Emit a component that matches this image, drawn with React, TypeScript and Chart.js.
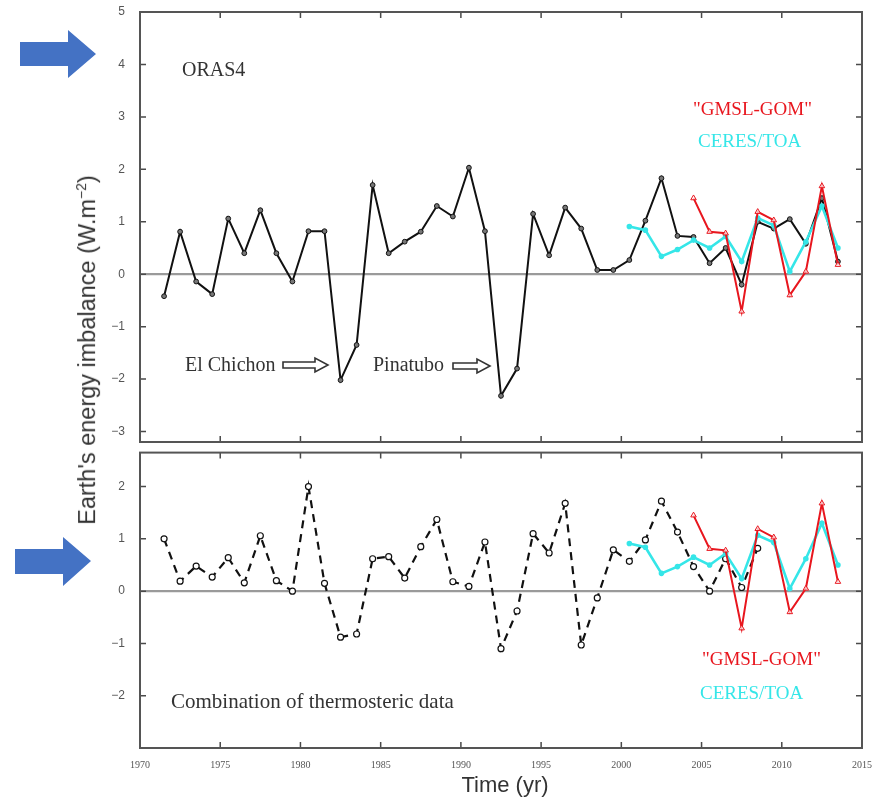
import React, { useEffect, useRef } from 'react';
import { Chart, registerables } from 'chart.js';
Chart.register(...registerables);

// ---------- data ----------
const orasYears = [1971.5, 1972.5, 1973.5, 1974.5, 1975.5, 1976.5, 1977.5, 1978.5, 1979.5, 1980.5, 1981.5, 1982.5, 1983.5, 1984.5, 1985.5, 1986.5, 1987.5, 1988.5, 1989.5, 1990.5, 1991.5, 1992.5, 1993.5, 1994.5, 1995.5, 1996.5, 1997.5, 1998.5, 1999.5, 2000.5, 2001.5, 2002.5, 2003.5, 2004.5, 2005.5, 2006.5, 2007.5, 2008.5, 2009.5, 2010.5, 2011.5, 2012.5, 2013.5];
const orasValues = [-0.42, 0.81, -0.14, -0.38, 1.06, 0.4, 1.22, 0.4, -0.14, 0.82, 0.82, -2.02, -1.35, 1.7, 0.4, 0.62, 0.81, 1.3, 1.1, 2.03, 0.82, -2.32, -1.8, 1.15, 0.36, 1.27, 0.87, 0.08, 0.08, 0.27, 1.02, 1.83, 0.73, 0.71, 0.21, 0.5, -0.2, 1.0, 0.87, 1.05, 0.58, 1.45, 0.24];

const thermoYears = [1971.5, 1972.5, 1973.5, 1974.5, 1975.5, 1976.5, 1977.5, 1978.5, 1979.5, 1980.5, 1981.5, 1982.5, 1983.5, 1984.5, 1985.5, 1986.5, 1987.5, 1988.5, 1989.5, 1990.5, 1991.5, 1992.5, 1993.5, 1994.5, 1995.5, 1996.5, 1997.5, 1998.5, 1999.5, 2000.5, 2001.5, 2002.5, 2003.5, 2004.5, 2005.5, 2006.5, 2007.5, 2008.5];
const thermoValues = [1.0, 0.19, 0.48, 0.27, 0.64, 0.16, 1.06, 0.2, 0.0, 2.0, 0.15, -0.88, -0.82, 0.62, 0.66, 0.25, 0.85, 1.37, 0.18, 0.09, 0.94, -1.1, -0.38, 1.1, 0.73, 1.68, -1.03, -0.13, 0.79, 0.57, 0.98, 1.72, 1.13, 0.47, 0.0, 0.62, 0.07, 0.82];

const ceresYears = [2000.5, 2001.5, 2002.5, 2003.5, 2004.5, 2005.5, 2006.5, 2007.5, 2008.5, 2009.5, 2010.5, 2011.5, 2012.5, 2013.5];
const ceresValues = [0.91, 0.84, 0.34, 0.47, 0.65, 0.5, 0.72, 0.24, 1.07, 0.93, 0.05, 0.62, 1.3, 0.5];

const gmslYears = [2004.5, 2005.5, 2006.5, 2007.5, 2008.5, 2009.5, 2010.5, 2011.5, 2012.5, 2013.5];
const gmslValues = [1.45, 0.81, 0.78, -0.71, 1.19, 1.03, -0.4, 0.05, 1.68, 0.18];

const xTicks = [1970, 1975, 1980, 1985, 1990, 1995, 2000, 2005, 2010, 2015];
const topYTicks = [-3, -2, -1, 0, 1, 2, 3, 4, 5];
const bottomYTicks = [-2, -1, 0, 1, 2];

const yAxisTitle = "Earth's energy imbalance (W.m";
const xAxisTitle = 'Time (yr)';
const topLabel = 'ORAS4';
const bottomLabel = 'Combination of thermosteric data';
const gmslLabel = '"GMSL-GOM"';
const ceresLabel = 'CERES/TOA';
const volcanoLabels = ['El Chichon', 'Pinatubo'];

const RED = '#e8161e';
const CYAN = '#35e6e8';
const SERIF = '"Liberation Serif", "DejaVu Serif", serif';
const SANS = '"Liberation Sans", Arial, sans-serif';

const pts = (xs: number[], ys: number[]) => xs.map((x, i) => ({ x, y: ys[i] }));

function hollowArrow(ctx: CanvasRenderingContext2D, x0: number, x1: number, y: number) {
  const head = 13;
  ctx.save();
  ctx.beginPath();
  ctx.moveTo(x0, y - 3);
  ctx.lineTo(x1 - head, y - 3);
  ctx.lineTo(x1 - head, y - 7);
  ctx.lineTo(x1, y);
  ctx.lineTo(x1 - head, y + 7);
  ctx.lineTo(x1 - head, y + 3);
  ctx.lineTo(x0, y + 3);
  ctx.closePath();
  ctx.fillStyle = '#fff';
  ctx.fill();
  ctx.strokeStyle = '#333';
  ctx.lineWidth = 1.6;
  ctx.stroke();
  ctx.restore();
}

function framePlugin(yTicks: number[], annotate: (ctx: CanvasRenderingContext2D) => void) {
  return {
    id: 'frame',
    beforeDatasetsDraw(chart: any) {
      const { ctx, chartArea: a, scales } = chart;
      const y0 = scales.y.getPixelForValue(0);
      ctx.save();
      ctx.strokeStyle = '#9a9a9a';
      ctx.lineWidth = 2.2;
      ctx.beginPath();
      ctx.moveTo(a.left, y0);
      ctx.lineTo(a.right, y0);
      ctx.stroke();
      ctx.restore();
    },
    afterDraw(chart: any) {
      const { ctx, chartArea: a, scales } = chart;
      ctx.save();
      ctx.strokeStyle = '#4a4a4a';
      ctx.lineWidth = 1.5;
      const len = 6;
      ctx.beginPath();
      xTicks.forEach((v) => {
        const px = scales.x.getPixelForValue(v);
        if (px <= a.left + 1 || px >= a.right - 1) return;
        ctx.moveTo(px, a.top);
        ctx.lineTo(px, a.top + len);
        ctx.moveTo(px, a.bottom);
        ctx.lineTo(px, a.bottom - len);
      });
      yTicks.forEach((v) => {
        const py = scales.y.getPixelForValue(v);
        ctx.moveTo(a.left, py);
        ctx.lineTo(a.left + len, py);
        ctx.moveTo(a.right, py);
        ctx.lineTo(a.right - len, py);
      });
      ctx.stroke();
      ctx.lineWidth = 2;
      ctx.strokeStyle = '#555';
      ctx.strokeRect(a.left, a.top, a.right - a.left, a.bottom - a.top);
      ctx.restore();
      annotate(ctx);
    },
  };
}

function lineSets(black: any) {
  return [
    {
      data: pts(gmslYears, gmslValues),
      borderColor: RED,
      borderWidth: 2,
      pointStyle: 'triangle',
      pointRadius: 3.2,
      pointBackgroundColor: 'rgba(255,255,255,0.7)',
      pointBorderColor: RED,
      pointBorderWidth: 1,
    },
    {
      data: pts(ceresYears, ceresValues),
      borderColor: CYAN,
      borderWidth: 2.6,
      pointRadius: 1.5,
      pointBackgroundColor: CYAN,
      pointBorderColor: CYAN,
    },
    black,
  ];
}

function yScale(min: number, max: number, ticks: number[]) {
  return {
    type: 'linear',
    min,
    max,
    grid: { display: false },
    border: { display: false },
    afterBuildTicks: (s: any) => {
      s.ticks = ticks.map((v) => ({ value: v }));
    },
    afterFit: (s: any) => {
      s.width = 40;
      s.paddingTop = 0;
      s.paddingBottom = 0;
    },
    ticks: {
      padding: 7,
      color: '#555',
      font: { family: SANS, size: 12 },
      callback: (v: any) => String(v).replace('-', '\u2212'),
    },
  };
}

export default function App() {
  const topRef = useRef<HTMLCanvasElement>(null);
  const botRef = useRef<HTMLCanvasElement>(null);

  useEffect(() => {
    const topChart = new Chart(topRef.current as HTMLCanvasElement, {
      type: 'line',
      data: {
        datasets: lineSets({
          data: pts(orasYears, orasValues),
          borderColor: '#111',
          borderWidth: 2,
          pointRadius: 2.4,
          pointBackgroundColor: '#777',
          pointBorderColor: '#111',
          pointBorderWidth: 1,
        }) as any,
      },
      options: {
        animation: false,
        responsive: false,
        devicePixelRatio: 1,
        layout: { padding: { left: 100, right: 22, top: 12, bottom: 8 } },
        plugins: { legend: { display: false }, tooltip: { enabled: false } },
        elements: { line: { tension: 0 } },
        scales: {
          x: {
            type: 'linear',
            min: 1970,
            max: 2015,
            grid: { display: false },
            border: { display: false },
            ticks: { display: false },
            afterFit: (s: any) => {
              s.height = 0;
              s.paddingLeft = 0;
              s.paddingRight = 0;
            },
          },
          y: yScale(-3.2, 5, topYTicks),
        } as any,
      },
      plugins: [
        framePlugin(topYTicks, (ctx) => {
          ctx.save();
          ctx.textBaseline = 'alphabetic';
          ctx.fillStyle = '#333';
          ctx.font = `20px ${SERIF}`;
          ctx.fillText(topLabel, 182, 76);
          ctx.fillText(volcanoLabels[0], 185, 371);
          ctx.fillText(volcanoLabels[1], 373, 371);
          hollowArrow(ctx, 283, 328, 365);
          hollowArrow(ctx, 453, 490, 366);
          ctx.font = `19px ${SERIF}`;
          ctx.fillStyle = RED;
          ctx.fillText(gmslLabel, 693, 115);
          ctx.fillStyle = CYAN;
          ctx.fillText(ceresLabel, 698, 147);
          ctx.restore();
        }) as any,
      ],
    });

    const botChart = new Chart(botRef.current as HTMLCanvasElement, {
      type: 'line',
      data: {
        datasets: lineSets({
          data: pts(thermoYears, thermoValues),
          borderColor: '#111',
          borderWidth: 2.2,
          borderDash: [8, 6],
          pointRadius: 3,
          pointBackgroundColor: '#fff',
          pointBorderColor: '#111',
          pointBorderWidth: 1.2,
        }) as any,
      },
      options: {
        animation: false,
        responsive: false,
        devicePixelRatio: 1,
        layout: { padding: { left: 100, right: 22, top: 6, bottom: 20 } },
        plugins: { legend: { display: false }, tooltip: { enabled: false } },
        elements: { line: { tension: 0 } },
        scales: {
          x: {
            type: 'linear',
            min: 1970,
            max: 2015,
            grid: { display: false },
            border: { display: false },
            afterBuildTicks: (s: any) => {
              s.ticks = xTicks.map((v) => ({ value: v }));
            },
            afterFit: (s: any) => {
              s.height = 30;
              s.paddingLeft = 0;
              s.paddingRight = 0;
            },
            ticks: {
              padding: 3,
              color: '#555',
              maxRotation: 0,
              font: { family: SERIF, size: 10 },
              callback: (v: any) => String(v),
            },
          },
          y: yScale(-3, 2.65, bottomYTicks),
        } as any,
      },
      plugins: [
        framePlugin(bottomYTicks, (ctx) => {
          ctx.save();
          ctx.textBaseline = 'alphabetic';
          ctx.fillStyle = '#333';
          ctx.font = `21px ${SERIF}`;
          ctx.fillText(bottomLabel, 171, 262);
          ctx.font = `19px ${SERIF}`;
          ctx.fillStyle = RED;
          ctx.fillText(gmslLabel, 702, 219);
          ctx.fillStyle = CYAN;
          ctx.fillText(ceresLabel, 700, 253);
          ctx.restore();
        }) as any,
      ],
    });

    return () => {
      topChart.destroy();
      botChart.destroy();
    };
  }, []);

  return (
    <div style={{ position: 'fixed', left: 0, top: 0, width: 884, height: 798, background: '#fff', overflow: 'hidden' }}>
      <canvas ref={topRef} width={884} height={450} style={{ position: 'absolute', left: 0, top: 0 }} />
      <canvas ref={botRef} width={884} height={352} style={{ position: 'absolute', left: 0, top: 446 }} />
      <div
        style={{
          position: 'absolute',
          left: 87,
          top: 350,
          transform: 'translate(-50%, -50%) rotate(-90deg)',
          whiteSpace: 'nowrap',
          fontFamily: SANS,
          fontSize: 23.5,
          color: '#333',
        }}
      >
        {yAxisTitle}
        <sup style={{ fontSize: 14 }}>{'\u22122'}</sup>)
      </div>
      <div
        style={{
          position: 'absolute',
          left: 505,
          top: 785,
          transform: 'translate(-50%, -50%)',
          whiteSpace: 'nowrap',
          fontFamily: SANS,
          fontSize: 22,
          color: '#333',
        }}
      >
        {xAxisTitle}
      </div>
      <svg width={884} height={798} style={{ position: 'absolute', left: 0, top: 0, pointerEvents: 'none' }}>
        <polygon points="20,42 68,42 68,30 96,54 68,78 68,66 20,66" fill="#4472C4" />
        <polygon points="15,549 63,549 63,537 91,561 63,586 63,574 15,574" fill="#4472C4" />
      </svg>
    </div>
  );
}
